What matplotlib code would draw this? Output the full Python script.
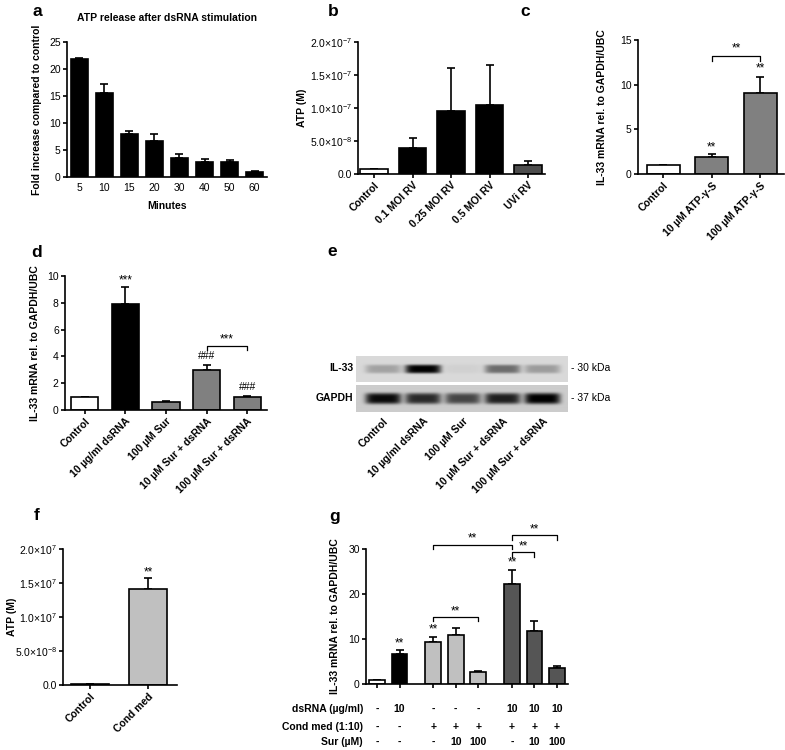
import numpy as np
import matplotlib
matplotlib.use("Agg")
import matplotlib.pyplot as plt
from matplotlib.transforms import blended_transform_factory

plt.rcParams['font.family'] = ['Liberation Sans', 'DejaVu Sans']
plt.rcParams['mathtext.fontset'] = 'custom'
plt.rcParams['mathtext.rm'] = 'Liberation Sans'
plt.rcParams['mathtext.it'] = 'Liberation Sans:italic'
plt.rcParams['mathtext.bf'] = 'Liberation Sans:bold'
plt.rcParams['axes.linewidth'] = 1.2

# ---------------- data ----------------
# a: ATP release time course
a_minutes = ['5', '10', '15', '20', '30', '40', '50', '60']
a_fold = [21.8, 15.5, 8.0, 6.7, 3.6, 2.8, 2.8, 1.0]
a_err = [0.3, 1.7, 0.5, 1.2, 0.6, 0.5, 0.3, 0.15]

# b: ATP after RV infection
b_groups = ['Control', '0.1 MOI RV', '0.25 MOI RV', '0.5 MOI RV', 'UVi RV']
b_atp = [0.8e-8, 3.9e-8, 9.6e-8, 1.05e-7, 1.4e-8]
b_err = [0.0, 1.5e-8, 6.4e-8, 6.0e-8, 0.5e-8]
b_colors = ['white', 'black', 'black', 'black', '#4d4d4d']

# c: IL-33 after ATP-y-S
c_groups = ['Control', '10 µM ATP-γ-S', '100 µM ATP-γ-S']
c_il33 = [1.0, 1.95, 9.1]
c_err = [0.0, 0.25, 1.8]
c_colors = ['white', '#808080', '#808080']

# d: IL-33 with suramin
d_groups = ['Control', '10 µg/ml dsRNA', '100 µM Sur', '10 µM Sur + dsRNA', '100 µM Sur + dsRNA']
d_il33 = [1.0, 7.9, 0.6, 2.95, 1.0]
d_err = [0.0, 1.3, 0.06, 0.4, 0.08]
d_colors = ['white', 'black', '#808080', '#808080', '#808080']

# e: western blot band intensities (relative darkness)
e_lanes = d_groups
e_il33_band = [0.25, 1.0, 0.04, 0.5, 0.28]
e_gapdh_band = [0.9, 0.75, 0.62, 0.8, 0.95]

# f: ATP in conditioned medium
f_groups = ['Control', 'Cond med']
f_atp = [0.2e-8, 1.41e-7]
f_err = [0.0, 0.16e-7]
f_colors = ['white', '#c0c0c0']

# g: IL-33 with conditioned medium
g_pos = [0, 1, 2.5, 3.5, 4.5, 6, 7, 8]
g_il33 = [1.0, 6.6, 9.3, 10.9, 2.7, 22.3, 11.8, 3.5]
g_err = [0.0, 0.9, 1.2, 1.5, 0.3, 3.1, 2.1, 0.4]
g_colors = ['white', 'black', '#c0c0c0', '#c0c0c0', '#c0c0c0', '#555555', '#555555', '#555555']
g_rows = ['dsRNA (µg/ml)', 'Cond med (1:10)', 'Sur (µM)']
g_dsrna = ['-', '10', '-', '-', '-', '10', '10', '10']
g_condmed = ['-', '-', '+', '+', '+', '+', '+', '+']
g_sur = ['-', '-', '-', '10', '100', '-', '10', '100']

# ---------------- figure ----------------
W, H = 785, 750
fig = plt.figure(figsize=(W / 100, H / 100), dpi=100)
STAR = 8.5


def px_axes(l, t, r, b):
    return fig.add_axes([l / W, 1 - b / H, (r - l) / W, (b - t) / H])


def style(ax, xlim, ylim):
    ax.spines[['top', 'right']].set_visible(False)
    ax.set_xlim(xlim)
    ax.set_ylim(ylim)
    ax.tick_params(direction='out', length=3, width=1.2, labelsize=7.5, pad=1.5)


def bars(ax, x, vals, err, colors, width):
    x = np.asarray(x, dtype=float)
    ax.bar(x, vals, width=width, color=colors, edgecolor='black', linewidth=1.2, zorder=2)
    ax.errorbar(x, vals, yerr=[np.zeros(len(vals)), err], fmt='none', ecolor='black',
                elinewidth=1.2, capsize=3, capthick=1.2, zorder=1)


def bracket(ax, x1, x2, y, drop, text, ty):
    ax.plot([x1, x1, x2, x2], [y - drop, y, y, y - drop], color='black', lw=0.9,
            clip_on=False)
    ax.text((x1 + x2) / 2, ty, text, ha='center', va='center', fontsize=STAR, clip_on=False)


def letter(x, y, s):
    fig.text(x / W, 1 - y / H, s, fontsize=12.5, fontweight='bold', ha='center', va='center')


def rot_labels(ax, x, labels):
    ax.set_xticks(x)
    ax.set_xticklabels(labels, rotation=45, ha='right', rotation_mode='anchor',
                       fontweight='bold', fontsize=7.5)


IL33_LABEL = 'IL-33 mRNA rel. to GAPDH/UBC'

# ---- a ----
ax = px_axes(67, 42, 267, 177)
xa = np.arange(len(a_fold))
bars(ax, xa, a_fold, a_err, 'black', 0.68)
style(ax, (-0.48, 7.49), (0, 25))
ax.set_yticks([0, 5, 10, 15, 20, 25])
ax.set_xticks(xa)
ax.set_xticklabels(a_minutes)
ax.tick_params(axis='x', length=0, pad=4)
ax.set_xlabel('Minutes', fontsize=7.5, fontweight='bold', labelpad=6)
ax.set_ylabel('Fold increase compared to control', fontsize=7.5, fontweight='bold')
ax.yaxis.set_label_coords(-0.125, 0.5)
ax.set_title('ATP release after dsRNA stimulation', fontsize=7.5, fontweight='bold', pad=15)
letter(37, 12, 'a')

# ---- b ----
ax = px_axes(358, 42, 545, 174)
xb = np.arange(len(b_atp))
bars(ax, xb, b_atp, b_err, b_colors, 0.72)
style(ax, (-0.42, 4.44), (0, 2e-7))
ax.set_yticks([0, 5e-8, 1e-7, 1.5e-7, 2e-7])
ax.set_yticklabels(['0.0', '5.0×10$^{-8}$', '1.0×10$^{-7}$', '1.5×10$^{-7}$', '2.0×10$^{-7}$'])
rot_labels(ax, xb, b_groups)
ax.set_ylabel('ATP (M)', fontsize=7.5, fontweight='bold')
ax.yaxis.set_label_coords(-0.273, 0.5)
letter(333, 12, 'b')

# ---- c ----
ax = px_axes(638, 40, 784, 174)
xc = np.arange(len(c_il33))
bars(ax, xc, c_il33, c_err, c_colors, 0.68)
style(ax, (-0.52, 2.49), (0, 15))
ax.set_yticks([0, 5, 10, 15])
rot_labels(ax, xc, c_groups)
ax.set_ylabel(IL33_LABEL, fontsize=7.5, fontweight='bold')
ax.yaxis.set_label_coords(-0.212, 0.5)
ax.text(1, 3.0, '**', ha='center', va='center', fontsize=STAR)
ax.text(2, 11.8, '**', ha='center', va='center', fontsize=STAR)
bracket(ax, 1, 2, 13.2, 0.5, '**', 14.1)
letter(525, 12, 'c')

# ---- d ----
ax = px_axes(65, 276, 267, 410)
xd = np.arange(len(d_il33))
bars(ax, xd, d_il33, d_err, d_colors, 0.67)
style(ax, (-0.49, 4.49), (0, 10))
ax.set_yticks([0, 2, 4, 6, 8, 10])
rot_labels(ax, xd, d_groups)
ax.set_ylabel(IL33_LABEL, fontsize=7.5, fontweight='bold')
ax.yaxis.set_label_coords(-0.124, 0.5)
ax.text(1, 9.7, '***', ha='center', va='center', fontsize=STAR)
ax.text(3, 4.0, '###', ha='center', va='center', fontsize=7.5)
ax.text(4, 1.7, '###', ha='center', va='center', fontsize=7.5)
bracket(ax, 3, 4, 4.8, 0.3, '***', 5.3)
letter(37, 252, 'd')

# ---- e (blot) ----
lane_x = np.arange(len(e_lanes))
ext_l, ext_r = -0.675, 4.63
cols = np.linspace(ext_l, ext_r, 212)


def blot_strip(ax, intens, band_h, bg):
    rows = np.linspace(-1, 1, 26)
    img = np.full((len(rows), len(cols)), bg)
    for c, v in zip(lane_x, intens):
        px = np.exp(-((cols - c) / 0.45) ** 6)
        py = np.exp(-(rows / band_h) ** 4)
        img -= 0.85 * v * np.outer(py, px)
    ax.imshow(img, cmap='gray', vmin=0, vmax=1, aspect='auto',
              extent=(ext_l, ext_r, 1, -1), interpolation='bilinear')
    ax.set_xlim(ext_l, ext_r)
    for s in ax.spines.values():
        s.set_visible(False)
    ax.set_yticks([])
    ax.tick_params(axis='x', length=0)


ax1 = px_axes(356, 356, 568, 382)
blot_strip(ax1, e_il33_band, 0.35, 0.85)
ax1.set_xticks([])
ax2 = px_axes(356, 385, 568, 412)
blot_strip(ax2, e_gapdh_band, 0.42, 0.8)
rot_labels(ax2, lane_x, e_lanes)
ax2.tick_params(axis='x', pad=3)
fig.text(353 / W, 1 - 368 / H, 'IL-33', ha='right', va='center', fontsize=7.5, fontweight='bold')
fig.text(353 / W, 1 - 398 / H, 'GAPDH', ha='right', va='center', fontsize=7.5, fontweight='bold')
fig.text(571 / W, 1 - 368 / H, '- 30 kDa', ha='left', va='center', fontsize=7.5)
fig.text(571 / W, 1 - 398 / H, '- 37 kDa', ha='left', va='center', fontsize=7.5)
letter(332, 251, 'e')

# ---- f ----
ax = px_axes(63, 549, 177, 685)
xf = np.arange(len(f_atp))
bars(ax, xf, f_atp, f_err, f_colors, 0.66)
style(ax, (-0.47, 1.5), (0, 2e-7))
ax.set_yticks([0, 5e-8, 1e-7, 1.5e-7, 2e-7])
ax.set_yticklabels(['0.0', '5.0×10$^{-8}$', '1.0×10$^{7}$', '1.5×10$^{7}$', '2.0×10$^{7}$'])
rot_labels(ax, xf, f_groups)
ax.set_ylabel('ATP (M)', fontsize=7.5, fontweight='bold')
ax.yaxis.set_label_coords(-0.404, 0.5)
ax.text(1, 1.65e-7, '**', ha='center', va='center', fontsize=STAR)
letter(37, 516, 'f')

# ---- g ----
ax = px_axes(366, 549, 568, 684)
bars(ax, g_pos, g_il33, g_err, g_colors, 0.7)
style(ax, (-0.49, 8.49), (0, 30))
ax.set_yticks([0, 10, 20, 30])
ax.set_xticks(g_pos)
ax.set_xticklabels([])
ax.set_ylabel(IL33_LABEL, fontsize=7.5, fontweight='bold')
ax.yaxis.set_label_coords(-0.129, 0.5)
ax.text(1, 9.0, '**', ha='center', va='center', fontsize=STAR)
ax.text(2.5, 12.2, '**', ha='center', va='center', fontsize=STAR)
ax.text(6, 27.0, '**', ha='center', va='center', fontsize=STAR)
bracket(ax, 2.5, 4.5, 15.0, 1.1, '**', 16.2)
bracket(ax, 2.5, 6, 31.0, 1.1, '**', 32.4)
bracket(ax, 6, 7, 29.3, 1.1, '**', 30.5)
bracket(ax, 6, 8, 33.1, 1.1, '**', 34.4)
tr = blended_transform_factory(ax.transData, fig.transFigure)
for label, vals, ypx in zip(g_rows, [g_dsrna, g_condmed, g_sur], [709, 727, 742]):
    fig.text(363 / W, 1 - ypx / H, label, ha='right', va='center', fontsize=7.5,
             fontweight='bold')
    for x, v in zip(g_pos, vals):
        ax.text(x, 1 - ypx / H, v, transform=tr, ha='center', va='center', fontsize=7.5,
                fontweight='bold')
letter(335, 517, 'g')

fig.savefig('out.png', dpi=100)
